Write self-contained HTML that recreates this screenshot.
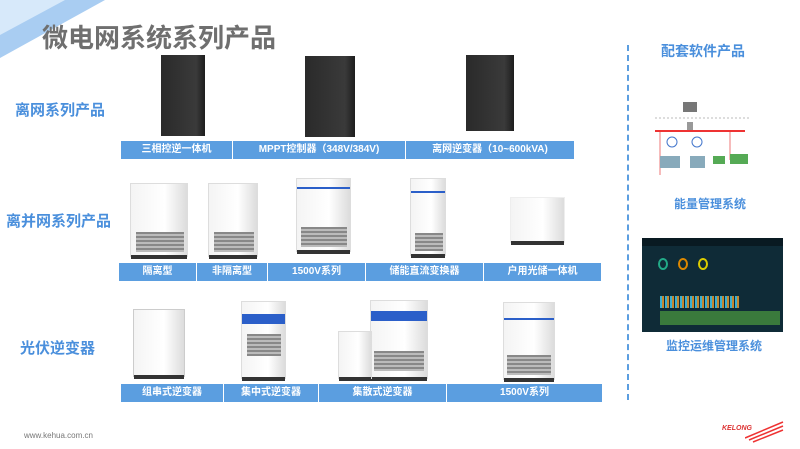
<!DOCTYPE html>
<html><head><meta charset="utf-8"><style>
*{margin:0;padding:0;box-sizing:border-box}
body{width:800px;height:449px;background:#fff;position:relative;overflow:hidden;font-family:"Liberation Sans","Noto Sans CJK SC",sans-serif}
.a{position:absolute}
.bar{position:absolute;background:#5b9ee0;color:#fff;font-size:10px;font-weight:bold;text-align:center;line-height:18px;height:18px;border-right:1px solid #fff}
.lab{position:absolute;color:#4a8fdc;font-weight:bold;font-size:15px}
.blk{position:absolute;background:linear-gradient(90deg,#2a2a2a,#3a3a3a 80%,#1d1d1d)}
.wht{position:absolute;background:linear-gradient(90deg,#f4f4f4,#fff 60%,#dcdcdc);border:1px solid #ddd}
.wht:after{content:"";position:absolute;left:0;right:0;bottom:-3px;height:4px;background:#333}
.grill{position:absolute;background:repeating-linear-gradient(#888 0 2px,#bbb 2px 4px)}
.blue{position:absolute;left:0;right:0;height:2px;background:#2b5fc9}
</style></head><body>
<svg class="a" style="left:0;top:0" width="110" height="60"><polygon points="0,0 105,0 0,58" fill="#a9cdf2"/><polygon points="0,0 65,0 0,35" fill="#d7e9fa"/></svg>
<div class="a" style="left:42px;top:18px;font-size:26px;font-weight:bold;color:#6f6f6f">微电网系统系列产品</div>
<div class="lab" style="left:15px;top:99px">离网系列产品</div>
<div class="lab" style="left:6px;top:210px">离并网系列产品</div>
<div class="lab" style="left:20px;top:337px">光伏逆变器</div>

<!-- row1 -->
<div class="blk" style="left:161px;top:55px;width:44px;height:81px"></div>
<div class="blk" style="left:305px;top:56px;width:50px;height:81px"></div>
<div class="blk" style="left:466px;top:55px;width:48px;height:76px"></div>
<div class="bar" style="left:121px;top:141px;width:112px">三相控逆一体机</div>
<div class="bar" style="left:233px;top:141px;width:173px">MPPT控制器（348V/384V)</div>
<div class="bar" style="left:406px;top:141px;width:169px">离网逆变器（10~600kVA)</div>

<!-- row2 -->
<div class="wht" style="left:130px;top:183px;width:58px;height:74px"><div class="grill" style="left:5px;top:48px;width:48px;height:20px"></div></div>
<div class="wht" style="left:208px;top:183px;width:50px;height:74px"><div class="grill" style="left:5px;top:48px;width:40px;height:20px"></div></div>
<div class="wht" style="left:296px;top:178px;width:55px;height:74px"><div class="blue" style="top:8px"></div><div class="grill" style="left:4px;top:48px;width:46px;height:20px"></div></div>
<div class="wht" style="left:410px;top:178px;width:36px;height:78px"><div class="blue" style="top:12px"></div><div class="grill" style="left:4px;top:54px;width:28px;height:18px"></div></div>
<div class="wht" style="left:510px;top:197px;width:55px;height:46px;border-color:#eee"></div>
<div class="bar" style="left:119px;top:263px;width:78px">隔离型</div>
<div class="bar" style="left:197px;top:263px;width:71px">非隔离型</div>
<div class="bar" style="left:268px;top:263px;width:98px">1500V系列</div>
<div class="bar" style="left:366px;top:263px;width:118px">储能直流变换器</div>
<div class="bar" style="left:484px;top:263px;width:118px">户用光储一体机</div>

<!-- row3 -->
<div class="wht" style="left:133px;top:309px;width:52px;height:68px;border-color:#ccc"></div>
<div class="wht" style="left:241px;top:301px;width:45px;height:78px"><div class="a" style="left:0;right:0;top:12px;height:10px;background:#2b5fc9"></div><div class="grill" style="left:5px;top:32px;width:34px;height:22px"></div></div>
<div class="wht" style="left:370px;top:300px;width:58px;height:79px"><div class="a" style="left:0;right:0;top:10px;height:10px;background:#2b5fc9"></div><div class="grill" style="left:3px;top:50px;width:50px;height:20px"></div></div>
<div class="wht" style="left:338px;top:331px;width:34px;height:48px"></div>
<div class="wht" style="left:503px;top:302px;width:52px;height:78px"><div class="blue" style="top:15px"></div><div class="grill" style="left:3px;top:52px;width:44px;height:20px"></div></div>
<div class="bar" style="left:121px;top:384px;width:103px">组串式逆变器</div>
<div class="bar" style="left:224px;top:384px;width:95px">集中式逆变器</div>
<div class="bar" style="left:319px;top:384px;width:128px">集散式逆变器</div>
<div class="bar" style="left:447px;top:384px;width:156px">1500V系列</div>

<!-- right -->
<div class="a" style="left:627px;top:45px;height:355px;border-left:2px dashed #5b9ee0"></div>
<div class="a" style="left:661px;top:41px;font-size:14px;font-weight:bold;color:#4a8fdc">配套软件产品</div>
<svg class="a" style="left:650px;top:100px" width="110" height="95">
<rect x="33" y="2" width="14" height="10" fill="#777"/><line x1="5" y1="18" x2="100" y2="18" stroke="#bbb" stroke-dasharray="2,2"/>
<rect x="37" y="22" width="6" height="10" fill="#999"/>
<line x1="5" y1="31" x2="95" y2="31" stroke="#e33" stroke-width="2"/>
<line x1="10" y1="32" x2="10" y2="75" stroke="#e77"/><line x1="80" y1="32" x2="80" y2="60" stroke="#e77"/>
<circle cx="22" cy="42" r="5" fill="none" stroke="#47c"/><circle cx="47" cy="42" r="5" fill="none" stroke="#47c"/>
<rect x="10" y="56" width="20" height="12" fill="#8ab"/><rect x="40" y="56" width="15" height="12" fill="#8ab"/><rect x="63" y="56" width="12" height="8" fill="#5a5"/><rect x="80" y="54" width="18" height="10" fill="#5a5"/>
</svg>
<div class="a" style="left:674px;top:195px;font-size:12px;font-weight:bold;color:#4a8fdc">能量管理系统</div>
<div class="a" style="left:642px;top:238px;width:141px;height:94px;background:#0f2b37">
<div class="a" style="left:0;top:0;width:141px;height:8px;background:#091a22"></div>
<div class="a" style="left:18px;top:58px;width:80px;height:12px;background:repeating-linear-gradient(90deg,#3ab0d0 0 2px,#c48830 2px 4px,transparent 4px 5px)"></div>
<div class="a" style="left:18px;top:73px;width:120px;height:14px;background:#3a7a3c"></div>
<div class="a" style="left:16px;top:20px;width:10px;height:12px;border:2px solid #2a8;border-radius:50%"></div>
<div class="a" style="left:36px;top:20px;width:10px;height:12px;border:2px solid #d80;border-radius:50%"></div>
<div class="a" style="left:56px;top:20px;width:10px;height:12px;border:2px solid #dc0;border-radius:50%"></div>
</div>
<div class="a" style="left:666px;top:337px;font-size:12px;font-weight:bold;color:#4a8fdc">监控运维管理系统</div>

<div class="a" style="left:24px;top:431px;font-size:8px;color:#777">www.kehua.com.cn</div>
<div class="a" style="left:722px;top:425px;font-size:7px;font-weight:bold;font-style:italic;color:#d33">KELONG</div>
<svg class="a" style="left:745px;top:420px" width="40" height="25"><path d="M0 18 L38 2 M4 20 L38 6 M8 22 L38 10" stroke="#e33" stroke-width="1.5"/></svg>
</body></html>
